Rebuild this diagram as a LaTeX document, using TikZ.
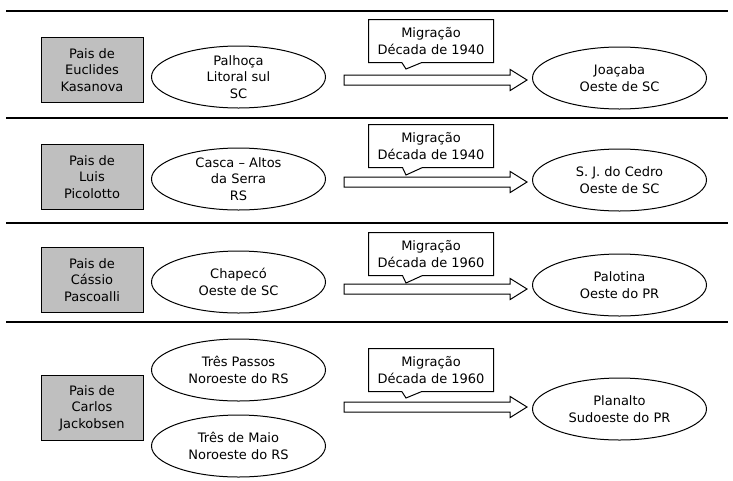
\documentclass[tikz,border=0pt]{standalone}
\usepackage{fontspec}
\setmainfont{DejaVu Sans}
\usetikzlibrary{shapes.geometric,shapes.callouts,shapes.arrows}
\newcommand{\mig}[1]{Migração\\Década de #1}

\begin{document}
\begin{tikzpicture}[x=1pt,y=-1pt]
                        \tikzstyle{every node}=[font=\fontsize{13}{16.5}\selectfont, align=center, line width=1pt]
                        \tikzstyle{pais}=[draw, fill=black!25, minimum width=102pt, minimum height=65pt, inner sep=0pt]
                        \tikzstyle{lugar}=[draw, ellipse, minimum width=174pt, minimum height=62pt, inner sep=0pt]
                        \tikzstyle{epoca}=[draw, rectangle callout, fill=white, minimum width=125pt, minimum height=43pt, inner sep=0pt, callout pointer width=20pt]
                        \tikzstyle{seta}=[draw, single arrow, minimum height=183pt, inner xsep=0pt, inner ysep=4.5pt, single arrow head extend=5.5pt, single arrow tip angle=64]
                        \tikzstyle{faixa}=[line width=1.8pt]
                        \useasboundingbox (0,0) rectangle (733,480);
                        \draw[faixa] (6,11) -- (728,11);
                        \draw[faixa] (6,118) -- (728,118);
                        \draw[faixa] (6,223) -- (728,223);
                        \draw[faixa] (6,322) -- (728,322);

                        \node[pais] (pais1) at (92,70) {Pais de\\Euclides\\Kasanova};
                        \node[lugar] (origem1) at (238.5,77) {Palhoça\\Litoral sul\\SC};
                        \node[epoca, callout absolute pointer={(406,69)}] (epoca1) at (431,41) {\mig{1940}};
                        \node[seta] (seta1) at (431.5,80) {};
                        \node[lugar] (destino1) at (619.5,78) {Joaçaba\\Oeste de SC};

                        \node[pais] (pais2) at (92,177) {Pais de\\Luis\\Picolotto};
                        \node[lugar] (origem2) at (238.5,179) {Casca – Altos\\da Serra\\RS};
                        \node[epoca, callout absolute pointer={(406,175)}] (epoca2) at (431,146) {\mig{1940}};
                        \node[seta] (seta2) at (431.5,182) {};
                        \node[lugar] (destino2) at (619.5,180) {S. J. do Cedro\\Oeste de SC};

                        \node[pais] (pais3) at (92,280) {Pais de\\Cássio\\Pascoalli};
                        \node[lugar] (origem3) at (238.5,282) {Chapecó\\Oeste de SC};
                        \node[epoca, callout absolute pointer={(406,283)}] (epoca3) at (431,254) {\mig{1960}};
                        \node[seta] (seta3) at (431.5,289) {};
                        \node[lugar] (destino3) at (619.5,285) {Palotina\\Oeste do PR};

                        \node[pais] (pais4) at (92,408) {Pais de\\Carlos\\Jackobsen};
                        \node[lugar] (origem4a) at (238.5,370) {Três Passos\\Noroeste do RS};
                        \node[lugar] (origem4b) at (238.5,446) {Três de Maio\\Noroeste do RS};
                        \node[epoca, callout absolute pointer={(406,398)}] (epoca4) at (431,370) {\mig{1960}};
                        \node[seta] (seta4) at (431.5,407) {};
                        \node[lugar] (destino4) at (619.5,409) {Planalto\\Sudoeste do PR};
                    \end{tikzpicture}
\end{document}
